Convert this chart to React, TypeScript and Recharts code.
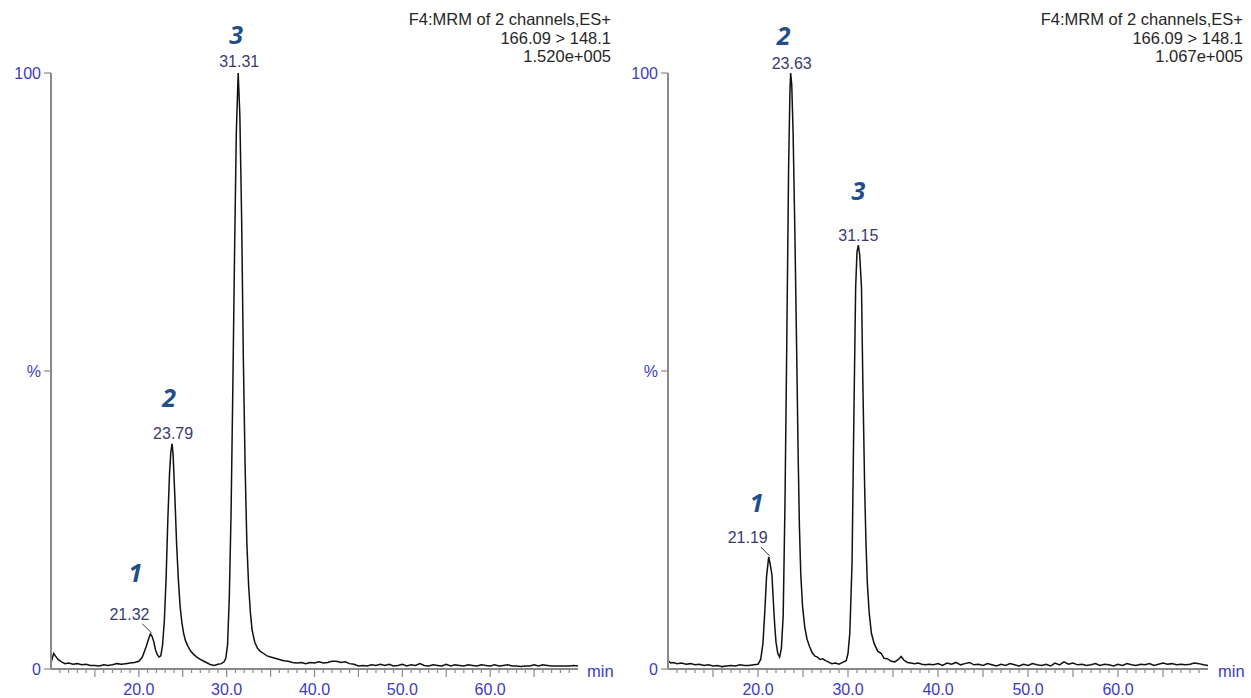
import React from "react"
import { LineChart, Line, XAxis, YAxis, ReferenceDot } from "recharts"

// retention time (min) and relative intensity (%)
const leftMinutes = [
    10.0, 10.3, 10.5, 10.8, 11.2, 11.6, 12.0, 12.5, 13.0, 13.5,
    14.0, 14.5, 15.0, 15.5, 16.0, 16.5, 17.0, 17.5, 18.0, 18.5,
    19.0, 19.5, 20.0, 20.4, 20.8, 21.1, 21.32, 21.5, 21.7, 21.9,
    22.1, 22.3, 22.5, 22.7, 22.9, 23.1, 23.3, 23.5, 23.65, 23.79,
    23.9, 24.1, 24.3, 24.5, 24.7, 24.9, 25.1, 25.3, 25.6, 25.9,
    26.2, 26.6, 27.0, 27.4, 27.8, 28.2, 28.6, 29.0, 29.4, 29.7,
    29.9, 30.1, 30.3, 30.5, 30.7, 30.9, 31.1, 31.31, 31.5, 31.7,
    31.9, 32.1, 32.3, 32.5, 32.7, 32.9, 33.2, 33.5, 33.8, 34.2,
    34.6, 35.0, 35.5, 36.0, 36.5, 37.0, 37.5, 38.0, 38.5, 39.0,
    39.5, 40.0, 40.5, 41.0, 41.5, 42.0, 42.5, 43.0, 43.5, 44.0,
    44.5, 45.0, 45.5, 46.0, 46.5, 47.0, 47.5, 48.0, 48.5, 49.0,
    49.5, 50.0, 50.5, 51.0, 51.5, 52.0, 52.5, 53.0, 53.5, 54.0,
    54.5, 55.0, 55.5, 56.0, 56.5, 57.0, 57.5, 58.0, 58.5, 59.0,
    59.5, 60.0, 60.5, 61.0, 61.5, 62.0, 62.5, 63.0, 63.5, 64.0,
    64.5, 65.0, 65.5, 66.0, 66.5, 67.0, 67.5, 68.0, 68.5, 69.0,
    69.5, 70.0,
]
const leftIntensity = [
    1.0, 2.6, 2.2, 1.6, 1.2, 0.9, 1.0, 0.8, 0.9, 0.7,
    0.8, 0.6, 0.6, 0.5, 0.7, 0.6, 0.7, 0.9, 0.8, 0.9,
    1.0, 1.1, 1.3, 2.0, 3.6, 5.0, 5.9, 5.5, 4.6, 3.2,
    2.4, 2.0, 2.2, 4.0, 8.0, 15.0, 25.0, 33.0, 36.5, 37.8,
    36.0, 29.0, 21.0, 15.0, 10.5, 7.8, 6.0, 4.8, 3.8, 3.0,
    2.5, 2.0, 1.6, 1.3, 1.0, 0.7, 0.6, 0.8, 0.9, 1.2,
    1.8, 4.0, 12.0, 26.0, 47.0, 70.0, 90.0, 100, 93.0, 76.0,
    52.0, 34.0, 21.0, 14.0, 9.5, 6.5, 4.5, 3.5, 3.0, 2.6,
    2.2, 2.0, 1.8, 1.6, 1.4, 1.3, 1.1, 1.0, 1.1, 0.9,
    1.1, 1.0, 1.2, 1.0, 1.1, 1.3, 1.3, 1.1, 1.2, 0.9,
    0.8, 0.5, 0.6, 0.5, 0.7, 0.6, 0.8, 0.6, 0.8, 0.5,
    0.6, 0.8, 0.5, 0.7, 0.6, 0.9, 0.6, 0.5, 0.7, 0.6,
    0.5, 0.8, 0.5, 0.7, 0.6, 0.5, 0.7, 0.6, 0.5, 0.7,
    0.6, 0.5, 0.7, 0.5, 0.6, 0.7, 0.5, 0.5, 0.4, 0.5,
    0.5, 0.7, 0.5, 0.7, 0.6, 0.5, 0.5, 0.5, 0.5, 0.5,
    0.6, 0.5,
]

const rightMinutes = [
    10.0, 10.3, 10.6, 11.0, 11.5, 12.0, 12.5, 13.0, 13.5, 14.0,
    14.5, 15.0, 15.5, 16.0, 16.5, 17.0, 17.5, 18.0, 18.5, 19.0,
    19.5, 20.0, 20.3, 20.55, 20.75, 20.95, 21.19, 21.35, 21.55, 21.7,
    21.85, 22.0, 22.2, 22.4, 22.6, 22.8, 23.0, 23.2, 23.4, 23.55,
    23.63, 23.75, 23.9, 24.1, 24.3, 24.45, 24.6, 24.75, 24.95, 25.2,
    25.45, 25.75, 26.0, 26.3, 26.6, 26.9, 27.2, 27.5, 27.8, 28.2,
    28.6, 29.0, 29.4, 29.8, 30.0, 30.2, 30.45, 30.65, 30.85, 31.0,
    31.15, 31.3, 31.5, 31.65, 31.85, 32.0, 32.15, 32.35, 32.6, 32.9,
    33.3, 33.7, 34.0, 34.4, 34.8, 35.2, 35.6, 35.9, 36.2, 36.6,
    37.0, 37.4, 37.8, 38.2, 38.6, 39.0, 39.5, 40.0, 40.5, 41.0,
    41.5, 42.0, 42.5, 43.0, 43.5, 44.0, 44.5, 45.0, 45.5, 46.0,
    46.5, 47.0, 47.5, 48.0, 48.5, 49.0, 49.5, 50.0, 50.5, 51.0,
    51.5, 52.0, 52.5, 53.0, 53.5, 54.0, 54.5, 55.0, 55.5, 56.0,
    56.5, 57.0, 57.5, 58.0, 58.5, 59.0, 59.5, 60.0, 60.5, 61.0,
    61.5, 62.0, 62.5, 63.0, 63.5, 64.0, 64.5, 65.0, 65.5, 66.0,
    66.5, 67.0, 67.5, 68.0, 68.5, 69.0, 69.5, 70.0,
]
const rightIntensity = [
    1.4, 1.0, 1.1, 0.9, 1.0, 0.8, 0.9, 0.7, 0.8, 0.6,
    0.7, 0.5, 0.6, 0.4, 0.5, 0.6, 0.5, 0.7, 0.6, 0.6,
    0.7, 0.8, 1.6, 4.3, 9.5, 15.5, 18.8, 17.6, 15.8, 11.5,
    7.5, 4.5, 2.6, 2.0, 3.5, 9.0, 28.0, 55.0, 84.0, 97.0,
    100, 98.0, 90.0, 73.0, 53.0, 37.0, 24.0, 16.0, 10.5, 7.0,
    5.0, 3.7, 2.8, 2.2, 2.0, 1.6, 1.7, 1.4, 1.2, 0.9,
    1.0, 0.8, 1.1, 1.4, 2.6, 6.0, 17.8, 42.0, 64.0, 70.0,
    71.1, 69.5, 64.0, 48.0, 30.5, 21.0, 14.4, 9.5, 6.0, 4.3,
    3.0, 2.6, 1.8, 1.7, 1.3, 1.2, 1.6, 2.1, 1.5, 1.1,
    1.0, 0.9, 1.0, 0.8, 0.7, 0.8, 0.7, 0.9, 0.6, 1.0,
    0.8, 1.1, 0.7, 0.9, 1.1, 0.7, 0.8, 0.6, 0.9, 0.7,
    0.5, 0.8, 0.6, 0.9, 0.7, 0.5, 0.8, 0.6, 0.9, 0.7,
    0.6, 0.8, 0.5, 1.0, 0.7, 1.2, 0.8, 1.0, 0.7, 0.8,
    0.6, 0.7, 0.9, 0.6, 0.8, 0.7, 0.5, 0.8, 0.6, 0.9,
    0.7, 0.6, 0.8, 0.7, 0.9, 0.6, 0.8, 1.0, 0.8, 0.9,
    0.7, 0.8, 0.7, 0.8, 1.0, 0.9, 0.7, 0.6,
]

const leftPeakTimes = [21.32, 23.79, 31.31]
const leftPeakHeights = [5.9, 37.8, 100]
const rightPeakTimes = [21.19, 23.63, 31.15]
const rightPeakHeights = [18.8, 100, 71.1]
const peakNumbers = ["1", "2", "3"]

const leftHeader = ["F4:MRM of 2 channels,ES+", "166.09 > 148.1", "1.520e+005"]
const rightHeader = ["F4:MRM of 2 channels,ES+", "166.09 > 148.1", "1.067e+005"]

const yTicks = [0, 50, 100]
const labelledMinutes = [20, 30, 40, 50, 60]
const minuteTicks = Array.from({ length: 59 }, (_, i) => 11 + i)

// where the annotation texts sit relative to each peak apex (px)
const leftOffsets = [
    { lx: -21, ly: -14, nx: -15, ny: -52, leader: true },
    { lx: 1, ly: -5, nx: -3, ny: -37, leader: false },
    { lx: 1, ly: -6, nx: -2, ny: -29, leader: false },
]
const rightOffsets = [
    { lx: -21, ly: -14, nx: -12, ny: -45, leader: true },
    { lx: 1, ly: -4, nx: -7, ny: -28, leader: false },
    { lx: 0, ly: -4, nx: 0, ny: -45, leader: false },
]

const FONT = "'Liberation Sans', Arial, sans-serif"
const AXIS = "#8a8a8a"
const TICK_BLUE = "#3b3bc4"
const PEAK_TEXT = "#3a3a72"
const NUM_BLUE = "#1f4e89"

function MinuteTick(props: any) {
    const { x, y, payload } = props
    const v = payload.value
    const major = v % 5 === 0
    return (
        <g>
            <line x1={x} x2={x} y1={y} y2={y + (major ? 8 : 4)} stroke={AXIS} strokeWidth={1.2} />
            {labelledMinutes.includes(v) && (
                <text x={x} y={y + 26} textAnchor="middle" fill={TICK_BLUE} fontSize={16} fontFamily={FONT}>
                    {v.toFixed(1)}
                </text>
            )}
        </g>
    )
}

function PeakMark({ cx, cy, time, num, off }: any) {
    return (
        <g>
            {off.leader && (
                <line x1={cx + 1} y1={cy - 1} x2={cx - 8} y2={cy - 10} stroke="#333" strokeWidth={1} />
            )}
            <text x={cx + off.lx} y={cy + off.ly} textAnchor="middle" fill={PEAK_TEXT} fontSize={16} fontFamily={FONT}>
                {time.toFixed(2)}
            </text>
            <text
                x={cx + off.nx}
                y={cy + off.ny}
                textAnchor="middle"
                fill={NUM_BLUE}
                fontSize={25}
                fontWeight="bold"
                fontStyle="italic"
                fontFamily="'Open Sans', 'Noto Sans', sans-serif"
            >
                {num}
            </text>
        </g>
    )
}

function Chromatogram({ minutes, intensity, peakTimes, peakHeights, offsets, width, left, right }: any) {
    const rows = minutes.map((t: number, i: number) => ({ t, v: intensity[i] }))
    return (
        <LineChart width={width} height={698} data={rows} margin={{ top: 73, right, bottom: 0, left }}>
            <XAxis
                dataKey="t"
                type="number"
                domain={[10, 70]}
                ticks={minuteTicks}
                interval={0}
                tickSize={0}
                tickMargin={0}
                tickLine={false}
                tick={<MinuteTick />}
                axisLine={{ stroke: AXIS, strokeWidth: 2 }}
                height={29}
                allowDataOverflow
            />
            <YAxis
                type="number"
                domain={[0, 100]}
                ticks={yTicks}
                width={45}
                tickSize={7}
                tickMargin={3}
                tickFormatter={(v: number) => (v === 50 ? "%" : String(v))}
                tick={{ fill: TICK_BLUE, fontSize: 16, fontFamily: FONT }}
                tickLine={{ stroke: AXIS, strokeWidth: 1.2 }}
                axisLine={{ stroke: AXIS, strokeWidth: 2 }}
            />
            <Line
                dataKey="v"
                type="linear"
                stroke="#111"
                strokeWidth={1.5}
                dot={false}
                activeDot={false}
                isAnimationActive={false}
            />
            {peakTimes.map((t: number, i: number) => (
                <ReferenceDot
                    key={i}
                    x={t}
                    y={peakHeights[i]}
                    r={0}
                    ifOverflow="visible"
                    shape={(p: any) => <PeakMark cx={p.cx} cy={p.cy} time={t} num={peakNumbers[i]} off={offsets[i]} />}
                />
            ))}
        </LineChart>
    )
}

function Header({ lines, x }: { lines: string[]; x: number }) {
    return (
        <>
            {lines.map((s, i) => (
                <text key={i} x={x} y={25 + i * 18.5} textAnchor="end" fontSize={16.5} fontFamily={FONT} fill="#262626">
                    {s}
                </text>
            ))}
        </>
    )
}

export default function App() {
    return (
        <div style={{ position: "absolute", left: 0, top: 0, width: 1251, height: 698, background: "#fff" }}>
            <div style={{ position: "absolute", left: 0, top: 0 }}>
                <Chromatogram
                    minutes={leftMinutes}
                    intensity={leftIntensity}
                    peakTimes={leftPeakTimes}
                    peakHeights={leftPeakHeights}
                    offsets={leftOffsets}
                    width={620}
                    left={6}
                    right={42}
                />
            </div>
            <div style={{ position: "absolute", left: 620, top: 0 }}>
                <Chromatogram
                    minutes={rightMinutes}
                    intensity={rightIntensity}
                    peakTimes={rightPeakTimes}
                    peakHeights={rightPeakHeights}
                    offsets={rightOffsets}
                    width={631}
                    left={3}
                    right={43}
                />
            </div>
            <svg width={1251} height={698} style={{ position: "absolute", left: 0, top: 0, pointerEvents: "none" }}>
                <Header lines={leftHeader} x={611} />
                <Header lines={rightHeader} x={1243} />
                <text x={587} y={677} fontSize={16.5} fontFamily={FONT} fill={TICK_BLUE}>min</text>
                <text x={1218} y={677} fontSize={16.5} fontFamily={FONT} fill={TICK_BLUE}>min</text>
            </svg>
        </div>
    )
}
